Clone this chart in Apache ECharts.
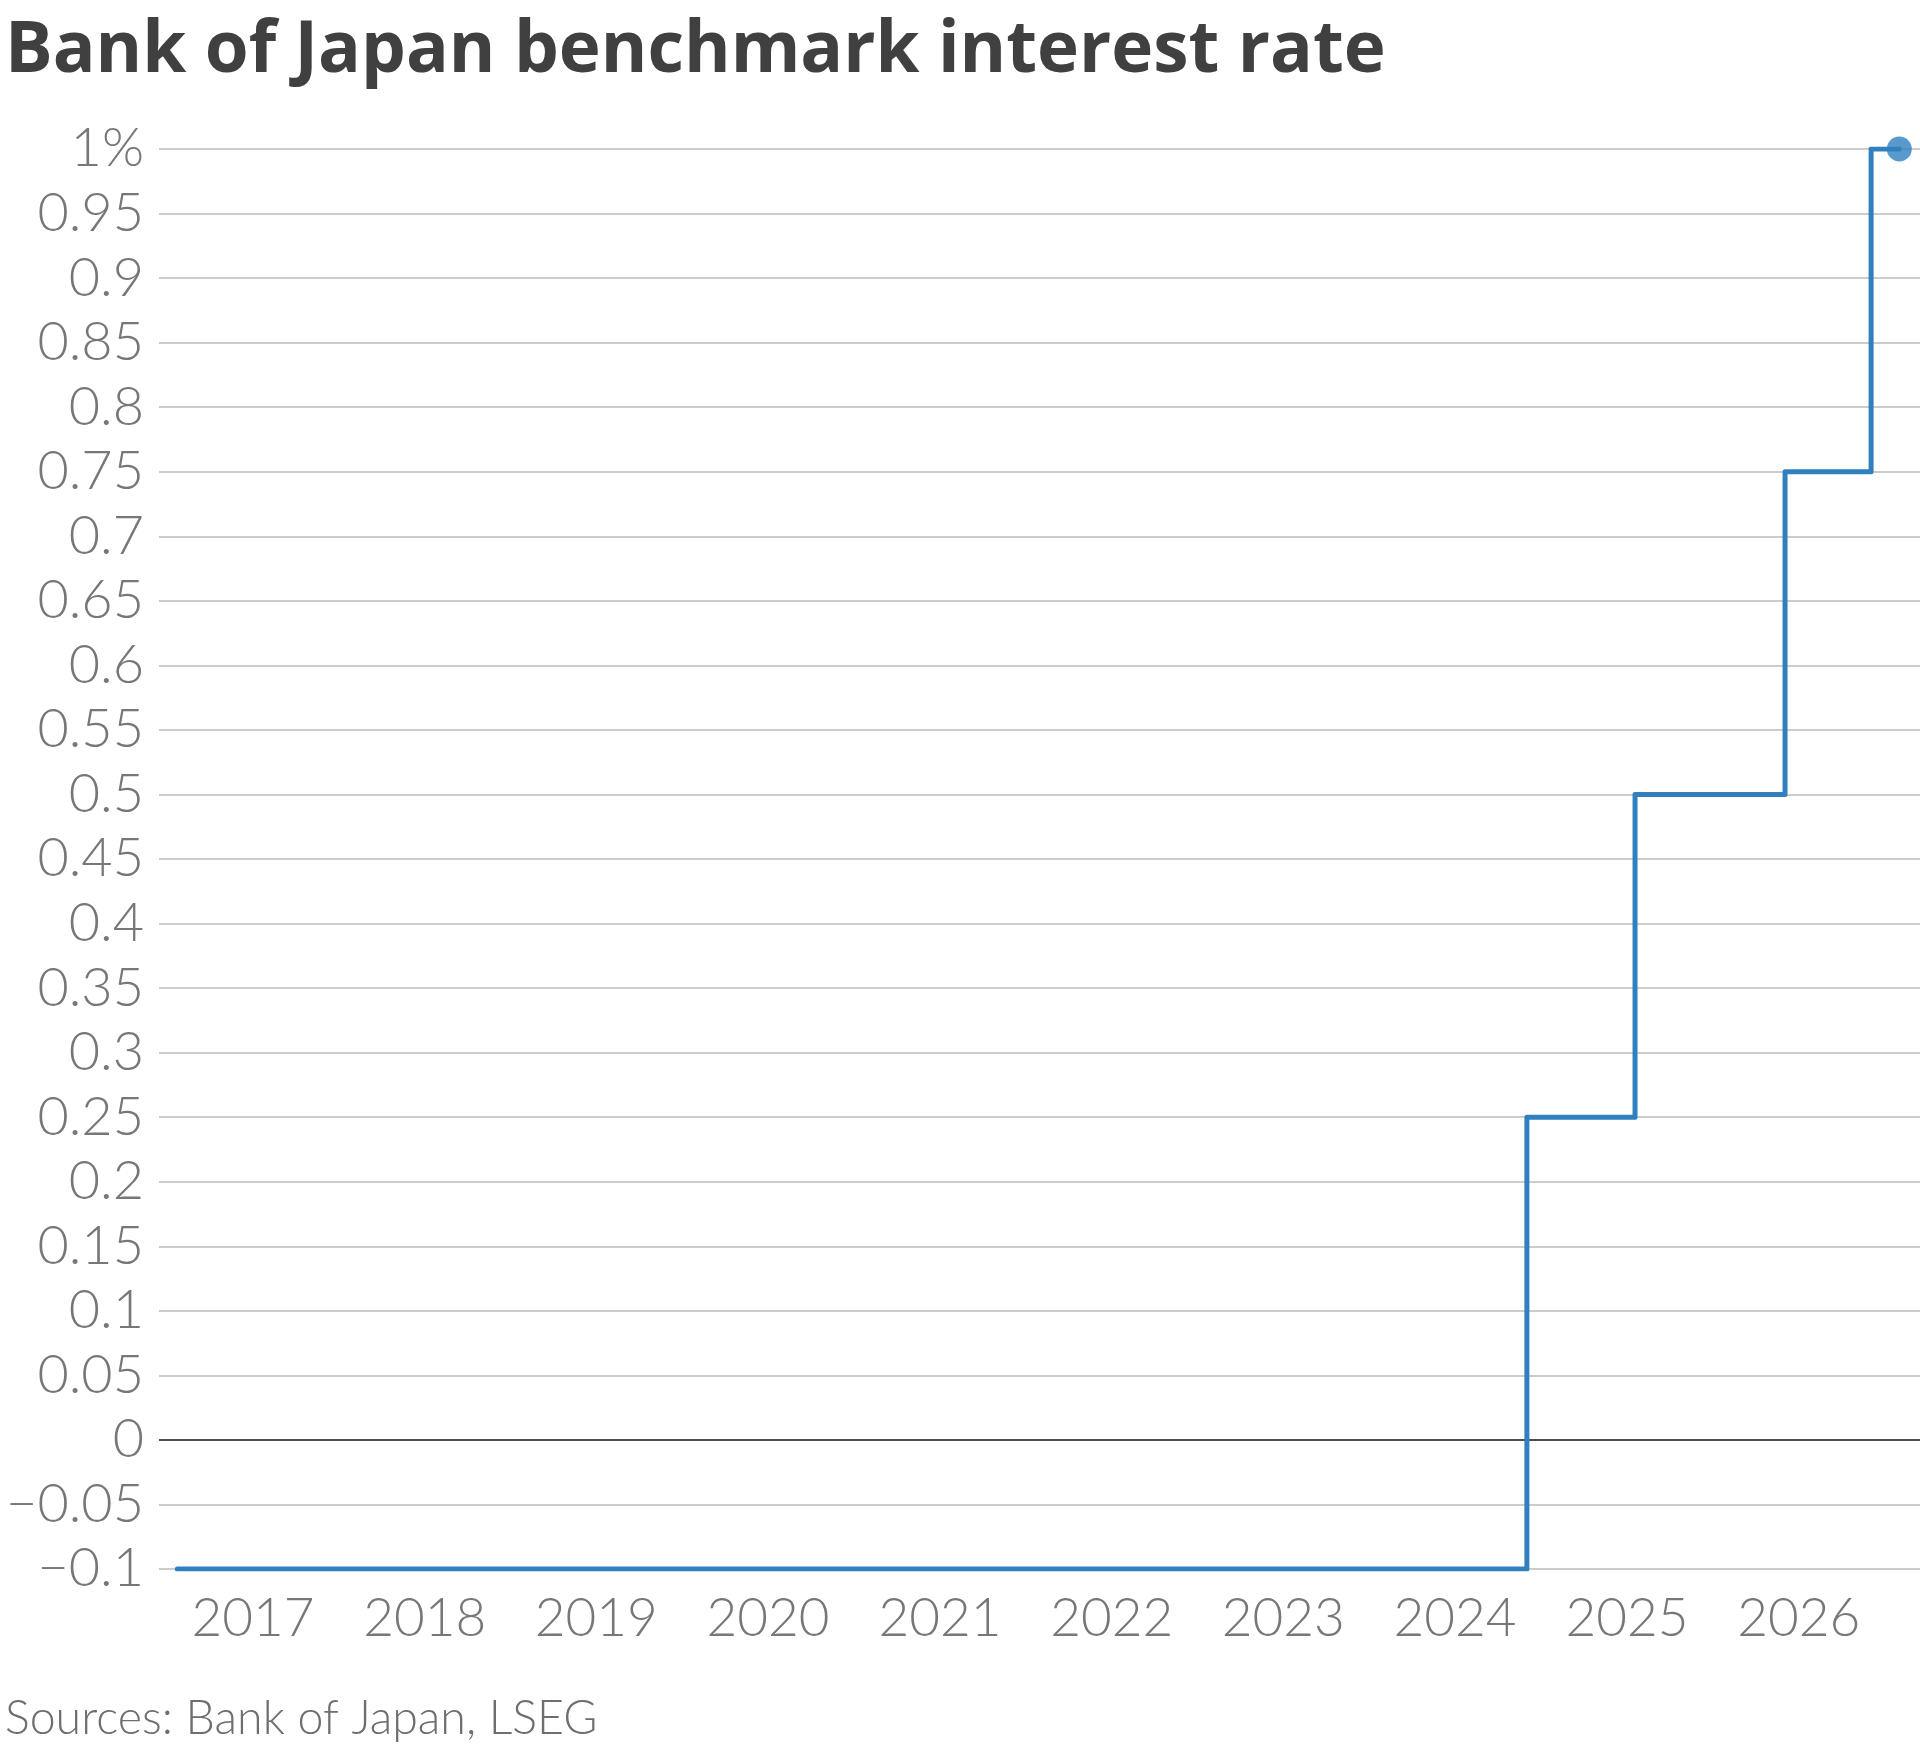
<!DOCTYPE html>
<html>
<head>
<meta charset="utf-8">
<script src="https://cdn.jsdelivr.net/npm/echarts@6/dist/echarts.min.js"></script>
<style>
html,body{margin:0;padding:0;background:#fff;}
#c{width:1920px;height:1747px;}
</style>
</head>
<body>
<div id="c"></div>
<script>
// Data
var titleText = 'Bank of Japan benchmark interest rate';
var sourceText = 'Sources: Bank of Japan, LSEG';
var changeDates = ['2016-07-24', '2024-06-02', '2025-01-18', '2025-12-03', '2026-06-04', '2026-08-03'];
var rateValues = [-0.1, 0.25, 0.5, 0.75, 1.0, 1.0];
var yearLabels = [2017, 2018, 2019, 2020, 2021, 2022, 2023, 2024, 2025, 2026];
var xRange = ['2016-06-15', '2026-09-16'];

function ts(s) { var p = s.split('-'); return Date.UTC(+p[0], +p[1] - 1, +p[2]); }

var chart = echarts.init(document.getElementById('c'), null, {renderer: 'canvas'});

var lineData = changeDates.map(function (d, i) { return [ts(d), rateValues[i]]; });
var lastIdx = changeDates.length - 1;
var yearTicks = yearLabels.map(function (y) { return Date.UTC(y, 0, 1); });

function fmtY(v) {
  var r = Math.round(v * 100) / 100;
  if (Math.abs(r - 1) < 1e-9) return '1%';
  if (Math.abs(r) < 1e-9) return '0';
  var s = String(Math.abs(r));
  return (r < 0 ? '\u2212' : '') + s;
}

var option = {
  backgroundColor: '#ffffff',
  animation: false,
  title: [
    {
      text: titleText,
      left: 0,
      top: 11,
      textStyle: {fontFamily: 'Open Sans', fontWeight: 'bold', fontSize: 71, color: '#404040'}
    },
    {
      text: sourceText,
      left: 0,
      top: 1690,
      textStyle: {fontFamily: 'Lato', fontWeight: 300, fontSize: 46.5, color: '#6e6e6e'}
    }
  ],
  grid: {left: 159, right: 0, top: 149, bottom: 178, containLabel: false},
  xAxis: {
    type: 'value',
    min: ts(xRange[0]),
    max: ts(xRange[1]),
    axisLine: {show: false},
    axisTick: {show: false},
    splitLine: {show: false},
    axisLabel: {
      customValues: yearTicks,
      formatter: function (v) { return String(new Date(v).getUTCFullYear()); },
      fontFamily: 'Lato',
      fontWeight: 300,
      fontSize: 53,
      color: '#777777',
      margin: 23
    }
  },
  yAxis: {
    type: 'value',
    min: -0.1,
    max: 1,
    interval: 0.05,
    axisLine: {show: false},
    axisTick: {show: false},
    splitLine: {show: true, lineStyle: {color: '#cccccc', width: 2}},
    axisLabel: {
      formatter: fmtY,
      fontFamily: 'Lato',
      fontWeight: 300,
      fontSize: 54,
      color: '#777777',
      margin: 15
    }
  },
  series: [
    {
      type: 'line',
      step: 'end',
      data: lineData,
      showSymbol: false,
      symbol: 'none',
      lineStyle: {color: '#3080bf', width: 5, cap: 'round', join: 'round'},
      z: 3,
      markLine: {
        silent: true,
        symbol: ['none', 'none'],
        label: {show: false},
        lineStyle: {color: '#222222', width: 1.5, type: 'solid'},
        data: [{yAxis: 0}],
        z: 2
      }
    },
    {
      type: 'scatter',
      data: [lineData[lastIdx]],
      symbol: 'circle',
      symbolSize: 25,
      itemStyle: {color: '#3080bf'},
      z: 4
    }
  ]
};
chart.setOption(option);
</script>
</body>
</html>
